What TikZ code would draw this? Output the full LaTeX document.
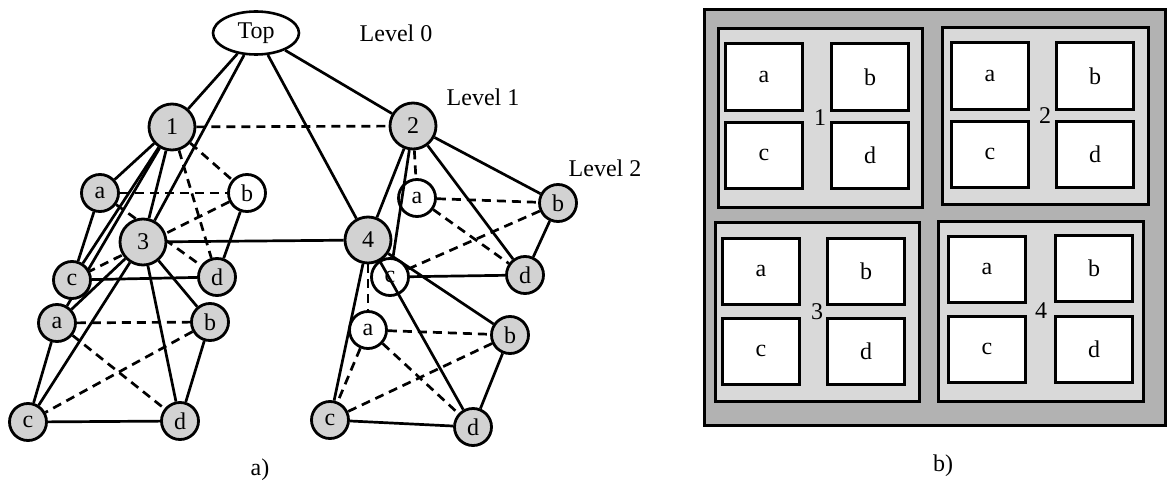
\documentclass[tikz,border=0pt]{standalone}
\usepackage{fontspec}
\setmainfont{Liberation Serif}
\usetikzlibrary{shapes.geometric,backgrounds}

\begin{document}
\begin{tikzpicture}[x=1pt, y=-1pt, font=\fontsize{24}{28}\selectfont]

      \useasboundingbox (0,0) rectangle (1169,487);

      % a) hierarchy
      \node[ellipse, draw, line width=2.6pt, minimum width=86pt, minimum height=43pt, inner sep=0pt] (top) at (256,33) {Top};

      \begin{scope}[every node/.style={circle, draw, line width=2.8pt, fill=gray!35, minimum size=46pt, inner sep=0pt}]
        \node (n1) at (172,127) {1};
        \node (n2) at (413,126) {2};
        \node (n3) at (143,242) {3};
        \node (n4) at (368,240) {4};
      \end{scope}

      \begin{scope}[every node/.style={circle, draw, line width=2.8pt, fill=gray!35, minimum size=37pt, inner sep=0pt}]
        \node (n1a) at (100,193) {a};
        \node[fill=white] (n1b) at (247,193) {b};
        \node (n1c) at (72,280)  {c};
        \node (n1d) at (217,277) {d};
        \node (n3a) at (57,323)  {a};
        \node (n3b) at (210,322) {b};
        \node (n3c) at (28,422)  {c};
        \node (n3d) at (180,421) {d};
        \node[fill=white] (n2a) at (417,198) {a};
        \node (n2b) at (558,203) {b};
        \node[fill=white] (n2c) at (390,277) {c};
        \node (n2d) at (525,275) {d};
        \node[fill=white] (n4a) at (368,330) {a};
        \node (n4b) at (510,335) {b};
        \node (n4c) at (330,420) {c};
        \node (n4d) at (473,427) {d};
      \end{scope}

      \node (lev0) at (396,33)  {Level 0};
      \node (lev1) at (483,97)  {Level 1};
      \node (lev2) at (605,168) {Level 2};
      \node (capa) at (260,470) {a)};

      \begin{pgfonlayer}{background}
        \begin{scope}[every edge/.style={draw, line width=2.7pt}]
          \path (top) edge (n1);
          \path (top) edge (n3);
          \path (top) edge (n4);
          \path (top) edge (n2);
          \path (n3)  edge (n4);
          \path (n1)  edge (n1a);
          \path (n1)  edge (n1c);
          \path (n1)  edge (n3);
          \path (n1)  edge (n3a);
          \path (n1a) edge (n1c);
          \path (n1b) edge (n1d);
          \path (n1c) edge (n1d);
          \path (n3)  edge (n3a);
          \path (n3)  edge (n3b);
          \path (n3)  edge (n3c);
          \path (n3)  edge (n3d);
          \path (n3a) edge (n3c);
          \path (n3b) edge (n3d);
          \path (n3c) edge (n3d);
          \path (n2)  edge (n4);
          \path (n2)  edge (n2b);
          \path (n2)  edge (n2d);
          \path (n2b) edge (n2d);
          \path (n2c) edge (n2d);
          \path (n4)  edge (n4b);
          \path (n4)  edge (n4c);
          \path (n4b) edge (n4d);
          \path (n4c) edge (n4d);
        \end{scope}

        \begin{scope}[every edge/.style={draw, line width=2.7pt, dash pattern=on 9pt off 6pt}]
          \path (n1)  edge (n2);
          \path (n1)  edge (n1b);
          \path (n1)  edge (n1d);
          \path (n1a) edge (n1b);
          \path (n1a) edge (n1d);
          \path (n1b) edge (n1c);
          \path (n3a) edge (n3b);
          \path (n3a) edge (n3d);
          \path (n3b) edge (n3c);
          \path (n2)  edge (n2a);
          \path (n2a) edge (n2b);
          \path (n2a) edge (n2d);
          \path (n2c) edge (n2b);
          \path (n4)  edge (n4a);
          \path (n4a) edge (n4b);
          \path (n4a) edge (n4c);
          \path (n4a) edge (n4d);
          \path (n4b) edge (n4c);
        \end{scope}
      \end{pgfonlayer}

      % these two run across the white nodes
      \begin{scope}[every edge/.style={draw, line width=2.7pt}]
        \path (n2) edge (n2c);
        \path (n4) edge (n4d);
      \end{scope}

      % b) nested regions
      \begin{scope}[every node/.style={draw, line width=3pt, inner sep=0pt}]
        \node[fill=gray!60, minimum width=461pt, minimum height=415pt] (board) at (934.5,217.5) {};
        \node[fill=gray!30, minimum width=204pt, minimum height=178pt] (q1) at (820,118) {1};
        \node[fill=gray!30, minimum width=206pt, minimum height=176pt] (q2) at (1045,116) {2};
        \node[fill=gray!30, minimum width=204pt, minimum height=179pt] (q3) at (817,312) {3};
        \node[fill=gray!30, minimum width=205pt, minimum height=180pt] (q4) at (1041,311) {4};
      \end{scope}

      \begin{scope}[every node/.style={draw, line width=3pt, fill=white, minimum width=77pt, minimum height=66pt, inner sep=0pt}]
        \node (q1a) at (764,77)   {a};
        \node (q1b) at (870,77)   {b};
        \node (q1c) at (764,155)  {c};
        \node (q1d) at (870,155)  {d};
        \node (q2a) at (990,76)   {a};
        \node (q2b) at (1095,76)  {b};
        \node (q2c) at (990,154)  {c};
        \node (q2d) at (1095,154) {d};
        \node (q3a) at (761,271)  {a};
        \node (q3b) at (866,271)  {b};
        \node (q3c) at (761,351)  {c};
        \node (q3d) at (866,351)  {d};
        \node (q4a) at (987,269)  {a};
        \node (q4b) at (1094,268) {b};
        \node (q4c) at (987,349)  {c};
        \node (q4d) at (1094,349) {d};
      \end{scope}

      \node (capb) at (943,466) {b)};

    \end{tikzpicture}
\end{document}
